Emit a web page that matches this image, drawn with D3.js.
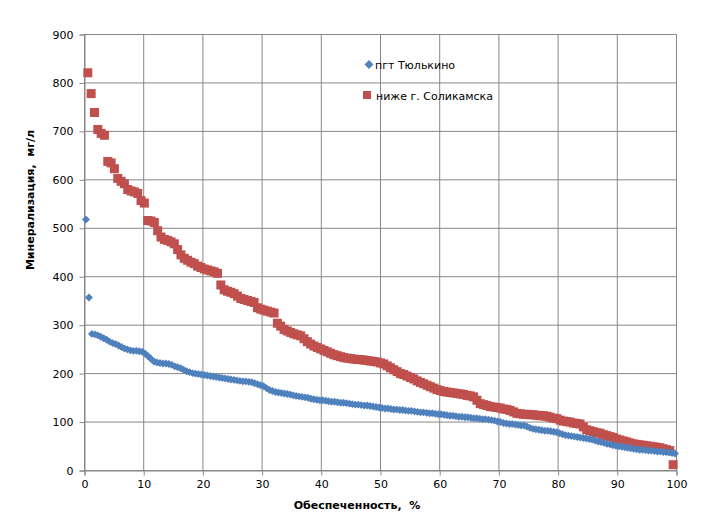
<!DOCTYPE html>
<html><head><meta charset="utf-8">
<script src="https://cdn.jsdelivr.net/npm/d3@7"></script>
<style>body{margin:0;background:#fff}svg{display:block}text{font-family:"DejaVu Sans",sans-serif;white-space:pre}</style>
</head><body><svg id="c" width="716" height="530"></svg>
<script>
const seriesNames = ["пгт Тюлькино", "ниже г. Соликамска"];
const xTicks = [0,10,20,30,40,50,60,70,80,90,100];
const yTicks = [0,100,200,300,400,500,600,700,800,900];
const xTitle = "Обеспеченность,  %";
const yTitle = "Минерализация,  мг/л";
// Tyulkino: 200 ranked values (exceedance plotting position (i+0.5)/n)
const tyulkino = [518,357,282,281,279,276,273,270,266,263,261,258,255,252,250,248,247,247,246,245,
241,236,230,225,223,222,221,221,220,218,215,213,211,208,205,203,201,200,199,198,
197,196,195,194,193,192,191,190,189,188,187,186,185,184,184,183,182,180,178,176,
174,170,166,164,162,161,160,159,158,157,155,154,153,152,151,150,148,147,146,145,
145,144,143,142,142,141,140,140,139,138,137,136,136,135,134,134,133,132,131,130,
129,128,128,127,126,126,125,125,124,123,123,122,121,120,120,119,118,118,117,116,
116,115,114,113,113,112,111,111,110,110,109,108,108,107,106,106,105,104,103,101,
100,98,97,96,96,95,94,93,93,91,88,86,85,84,83,82,82,81,80,79,
77,75,73,72,71,70,69,68,67,66,65,64,62,60,59,57,55,54,52,51,
50,49,48,47,46,45,44,43,43,42,41,41,40,39,39,38,38,37,36,35];
// Solikamsk: 177 ranked values (plotting position (i+1)/(n+1))
const solikamsk = [821,778,739,704,696,692,638,635,623,603,597,592,580,577,575,572,557,552,516,515,
512,495,482,477,475,472,468,456,445,438,434,430,427,422,419,416,414,412,410,407,
383,373,370,368,365,360,355,353,351,349,347,336,333,331,329,327,325,304,298,291,
288,285,282,280,278,272,266,261,257,254,251,248,245,242,239,237,235,233,232,231,
230,229,229,228,227,226,225,224,222,220,216,212,208,204,200,198,195,192,189,185,
182,179,176,173,170,167,165,163,162,161,160,159,158,157,155,154,152,145,138,136,
134,132,131,130,129,127,126,124,121,118,117,116,116,115,115,114,113,113,112,110,
108,107,104,102,101,100,98,97,96,90,84,82,80,78,77,74,72,70,68,65,
63,61,59,57,55,54,53,52,51,50,49,48,47,45,43,41,12];

const svg = d3.select("#c");
const L = 84.5, R = 676.5, T = 34.5, B = 470.5;
const x = d3.scaleLinear().domain([0,100]).range([L,R]);
const y = d3.scaleLinear().domain([0,900]).range([B,T]);
const grid = "#878787";

// gridlines
svg.append("g").selectAll("line").data(yTicks).join("line")
  .attr("x1",L).attr("x2",R).attr("y1",d=>y(d)).attr("y2",d=>y(d))
  .attr("stroke",grid).attr("stroke-width",1);
svg.append("g").selectAll("line").data(xTicks).join("line")
  .attr("y1",T).attr("y2",B).attr("x1",d=>x(d)).attr("x2",d=>x(d))
  .attr("stroke",grid).attr("stroke-width",1);

// axes
const xAxis = d3.axisBottom(x).tickValues(xTicks).tickSize(5).tickPadding(5);
const yAxis = d3.axisLeft(y).tickValues(yTicks).tickSize(5).tickPadding(6);
const gx = svg.append("g").attr("transform",`translate(0,${B})`).call(xAxis);
const gy = svg.append("g").attr("transform",`translate(${L},0)`).call(yAxis);
[gx,gy].forEach(g=>{
  g.select(".domain").attr("stroke",grid);
  g.selectAll(".tick line").attr("stroke",grid);
  g.selectAll("text").attr("font-family","DejaVu Sans").attr("font-size",11).attr("fill","#000");
});

// series
const nT = tyulkino.length, nS = solikamsk.length;
const tData = tyulkino.map((v,i)=>({p:(i+0.5)/nT*100, v}));
const sData = solikamsk.map((v,i)=>({p:(i+1)/(nS+1)*100, v}));
const sq = 9;
svg.append("g").selectAll("rect").data(sData).join("rect")
  .attr("x",d=>x(d.p)-sq/2).attr("y",d=>y(d.v)-sq/2).attr("width",sq).attr("height",sq)
  .attr("fill","#C0504D");
const dia = d3.symbol().type(d3.symbolDiamond2).size(40);
svg.append("g").selectAll("path").data(tData).join("path")
  .attr("d",dia).attr("transform",d=>`translate(${x(d.p)},${y(d.v)})`)
  .attr("fill","#4F81BD");

// legend
const leg = svg.append("g");
const diaL = d3.symbol().type(d3.symbolDiamond2).size(50);
leg.append("path").attr("d",diaL).attr("transform","translate(369,64.5)").attr("fill","#4F81BD");
leg.append("text").attr("x",375).attr("y",68.5).attr("font-size",11).text(seriesNames[0]);
leg.append("rect").attr("x",363).attr("y",91).attr("width",8).attr("height",8).attr("fill","#C0504D");
leg.append("text").attr("x",376).attr("y",99.5).attr("font-size",11).text(seriesNames[1]);

// titles
svg.append("text").attr("x",357).attr("y",509).attr("text-anchor","middle")
  .attr("font-size",11).attr("font-weight","bold").text(xTitle);
svg.append("text").attr("transform","translate(34,200) rotate(-90)").attr("text-anchor","middle")
  .attr("font-size",11).attr("font-weight","bold").text(yTitle);
</script></body></html>
